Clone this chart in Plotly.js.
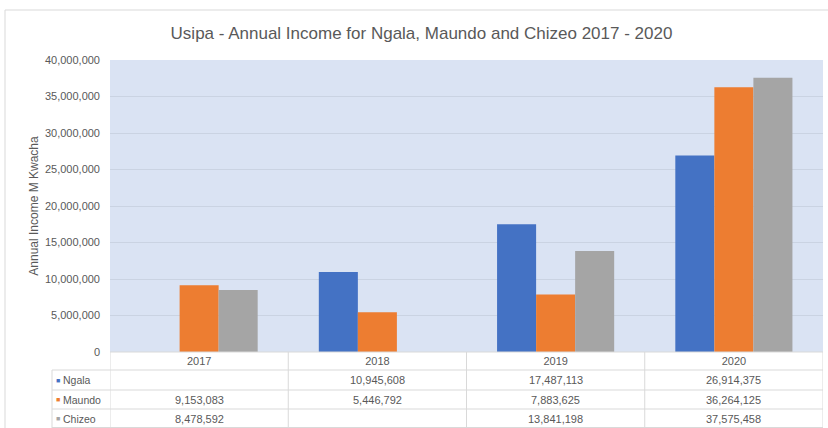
<!DOCTYPE html>
<html>
<head>
<meta charset="utf-8">
<script src="https://cdn.plot.ly/plotly-3.0.1.min.js"></script>
<style>
html,body{margin:0;padding:0;background:#fff;}
#chart{width:828px;height:428px;}
</style>
</head>
<body>
<div id="chart"></div>
<script>
// ---- data ----
const years = ["2017", "2018", "2019", "2020"];
const seriesNames = ["Ngala", "Maundo", "Chizeo"];
const ngala = [null, 10945608, 17487113, 26914375];
const maundo = [9153083, 5446792, 7883625, 36264125];
const chizeo = [8478592, null, 13841198, 37575458];
const yTicks = [0, 5000000, 10000000, 15000000, 20000000, 25000000, 30000000, 35000000, 40000000];
const yTickText = ["0", "5,000,000", "10,000,000", "15,000,000", "20,000,000", "25,000,000", "30,000,000", "35,000,000", "40,000,000"];

// ---- style ----
const colors = ["#4472c4", "#ed7d31", "#a5a5a5"];
const textColor = "#595959";
const fontFam = "'Liberation Sans', Arial, sans-serif";
const W = 828, H = 428;
const M = {l: 110, r: 5, t: 60, b: 76};
const plotW = W - M.l - M.r, plotH = H - M.t - M.b;
const px2x = p => (p - M.l) / plotW;          // pixel x -> paper x
const px2y = p => (H - M.b - p) / plotH;       // pixel y -> paper y

const allSeries = [ngala, maundo, chizeo];
const traces = allSeries.map((vals, i) => ({
  type: "bar",
  name: seriesNames[i],
  x: years,
  y: vals,
  marker: {color: colors[i]},
  hoverinfo: "skip"
}));

const lineCol = "#d9d9d9";
const shapes = [];
// outer chart border
shapes.push({type: "rect", xref: "paper", yref: "paper",
  x0: px2x(5), x1: px2x(840), y0: px2y(440), y1: px2y(10),
  line: {color: lineCol, width: 1}, fillcolor: "rgba(0,0,0,0)", layer: "below"});
// table: horizontal lines
[352, 370, 390, 409, 427.5].forEach((py, k) => {
  shapes.push({type: "line", xref: "paper", yref: "paper",
    x0: k === 0 ? 0 : px2x(52), x1: 1, y0: px2y(py), y1: px2y(py),
    line: {color: lineCol, width: 1}});
});
// table: vertical lines at category boundaries
for (let k = 0; k <= years.length; k++) {
  shapes.push({type: "line", xref: "x", yref: "paper",
    x0: k - 0.5, x1: k - 0.5, y0: px2y(428), y1: 0,
    line: {color: lineCol, width: 1}});
}
// legend column left border
shapes.push({type: "line", xref: "paper", yref: "paper",
  x0: px2x(52), x1: px2x(52), y0: px2y(428), y1: px2y(370),
  line: {color: lineCol, width: 1}});

const rowCenters = [380, 399.5, 418.5];
const annotations = [];
allSeries.forEach((vals, i) => {
  // legend key + name
  annotations.push({xref: "paper", yref: "paper", x: px2x(53.5), y: px2y(rowCenters[i]),
    xanchor: "left", yanchor: "middle", showarrow: false, text: "■",
    font: {family: fontFam, size: 7, color: colors[i]}});
  annotations.push({xref: "paper", yref: "paper", x: px2x(61), y: px2y(rowCenters[i]),
    xanchor: "left", yanchor: "middle", showarrow: false, text: seriesNames[i],
    font: {family: fontFam, size: 10.5, color: textColor}});
  vals.forEach((v, j) => {
    if (v === null) return;
    annotations.push({xref: "x", yref: "paper", x: j, y: px2y(rowCenters[i]),
      xanchor: "center", yanchor: "middle", showarrow: false,
      text: v.toLocaleString("en-US"),
      font: {family: fontFam, size: 11, color: textColor}});
  });
});

const layout = {
  width: W, height: H,
  margin: M,
  paper_bgcolor: "#ffffff",
  plot_bgcolor: "#dae3f3",
  showlegend: false,
  barmode: "group",
  bargap: 0.343,
  bargroupgap: 0,
  font: {family: fontFam, color: textColor},
  title: {text: "Usipa - Annual Income for Ngala, Maundo and Chizeo 2017 - 2020",
    font: {family: fontFam, size: 17, color: textColor},
    x: 421.5 / W, xanchor: "center", xref: "container", y: 1 - 33 / H, yanchor: "middle"},
  xaxis: {type: "category", showgrid: false, zeroline: false, showline: false,
    ticks: "", tickfont: {size: 11, color: textColor}, ticklabelstandoff: 1,
    range: [-0.5, years.length - 0.5]},
  yaxis: {range: [0, 40000000], tickvals: yTicks, ticktext: yTickText,
    showgrid: true, gridcolor: "#cad3e2", gridwidth: 1, zeroline: false,
    showline: false, ticks: "", tickfont: {size: 11, color: textColor},
    ticklabelstandoff: 9,
    title: {text: "Annual Income M Kwacha", font: {size: 12, color: textColor}, standoff: 3}},
  shapes: shapes,
  annotations: annotations
};

Plotly.newPlot("chart", traces, layout, {displayModeBar: false, staticPlot: true});
</script>
</body>
</html>
